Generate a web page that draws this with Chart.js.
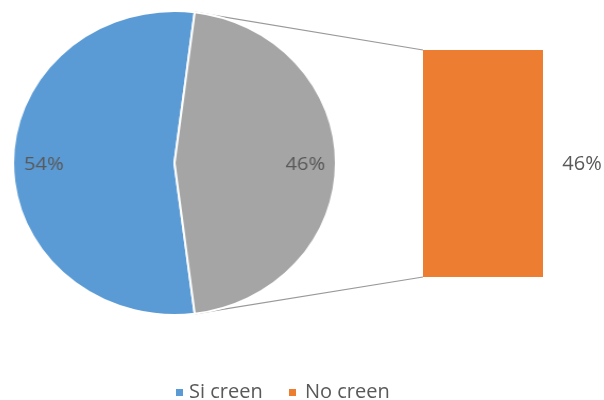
<!DOCTYPE html>
<html>
<head>
<meta charset="utf-8">
<script src="https://cdn.jsdelivr.net/npm/chart.js@4.4.1/dist/chart.umd.min.js"></script>
<style>
    body { margin: 0; background: #fff; }
    #wrap { position: relative; width: 604px; height: 400px; overflow: hidden; }
    #barChart { position: absolute; left: 0; top: 0; z-index: 1; }
    #pieChart { position: absolute; left: 12px; top: 10px; z-index: 2; transform: scaleX(1.062); transform-origin: 0 0; }
    #legend { position: absolute; left: 0; top: 377px; z-index: 3; font: 20px 'Open Sans', sans-serif; color: #595959; white-space: nowrap; }
    .item { position: absolute; top: 0; }
    .box { display: inline-block; width: 7px; height: 7px; margin-right: 6px; vertical-align: 2px; }
</style>
</head>
<body>
<div id="wrap">
    <canvas id="barChart" width="604" height="400"></canvas>
    <canvas id="pieChart" width="306" height="306"></canvas>
    <div id="legend"></div>
</div>
<script>
// data
const categories = ['Si creen', 'No creen'];
const pieLabels = ['Si creen', 'Otro'];
const pieValues = [54, 46];
const barLabels = ['No creen'];
const barValues = [46];

const blue = '#5b9bd5';
const gray = '#a5a5a5';
const orange = '#ed7d31';
const textColor = '#595959';

// pie canvas is stretched a little sideways, like the picture
const pieLeft = 12;
const pieTop = 10;
const pieScale = 1.062;

const total = pieValues.reduce((a, b) => a + b, 0);
// turn the pie so the "other" slice faces the bar
const rotation = 90 - (pieValues[1] / total) * 180 - (pieValues[0] / total) * 360;

const pieLabelPlugin = {
    id: 'pieLabels',
    afterDatasetsDraw(chart) {
        const ctx = chart.ctx;
        const meta = chart.getDatasetMeta(0);
        ctx.save();
        ctx.font = '19px "Open Sans"';
        ctx.fillStyle = textColor;
        ctx.textAlign = 'center';
        ctx.textBaseline = 'middle';
        meta.data.forEach((arc, i) => {
            const p = arc.getProps(['x', 'y', 'startAngle', 'endAngle', 'outerRadius'], true);
            const mid = (p.startAngle + p.endAngle) / 2;
            const r = p.outerRadius * 0.81;
            ctx.fillText(Math.round(pieValues[i] / total * 100) + '%', p.x + r * Math.cos(mid), p.y + r * Math.sin(mid) + 2);
        });
        ctx.restore();
    }
};

let pieChart = new Chart(document.getElementById('pieChart').getContext('2d'), {
    type: 'pie',
    data: {
        labels: pieLabels,
        datasets: [{
            data: pieValues,
            backgroundColor: [blue, gray],
            borderColor: '#ffffff',
            borderWidth: 2,
        }]
    },
    options: {
        responsive: false,
        animation: false,
        devicePixelRatio: 1,
        rotation: rotation,
        layout: { padding: 0 },
        plugins: {
            legend: { display: false },
            tooltip: { enabled: false }
        }
    },
    plugins: [pieLabelPlugin]
});

const barExtrasPlugin = {
    id: 'barExtras',
    afterDatasetsDraw(chart) {
        const ctx = chart.ctx;
        const bar = chart.getDatasetMeta(0).data[0];
        const b = bar.getProps(['x', 'y', 'base', 'width'], true);
        const barLeft = b.x - b.width / 2;
        const barRight = b.x + b.width / 2;

        // connector lines from the grey slice to the bar
        const arc = pieChart.getDatasetMeta(0).data[1];
        const p = arc.getProps(['x', 'y', 'startAngle', 'endAngle', 'outerRadius'], true);
        const edge = (a) => ({
            x: pieLeft + pieScale * (p.x + p.outerRadius * Math.cos(a)),
            y: pieTop + p.y + p.outerRadius * Math.sin(a)
        });
        const top = edge(p.startAngle);
        const bottom = edge(p.endAngle);
        ctx.save();
        ctx.strokeStyle = '#999999';
        ctx.lineWidth = 1.2;
        ctx.beginPath();
        ctx.moveTo(top.x, top.y);
        ctx.lineTo(barLeft, b.y);
        ctx.moveTo(bottom.x, bottom.y);
        ctx.lineTo(barLeft, b.base);
        ctx.stroke();

        // value label beside the bar
        ctx.font = '20px "Open Sans"';
        ctx.fillStyle = textColor;
        ctx.textAlign = 'center';
        ctx.textBaseline = 'middle';
        ctx.fillText(barValues[0] + '%', barRight + 39, (b.y + b.base) / 2 + 1);
        ctx.restore();
    }
};

let barChart = new Chart(document.getElementById('barChart').getContext('2d'), {
    type: 'bar',
    data: {
        labels: barLabels,
        datasets: [{
            data: barValues,
            backgroundColor: orange,
            borderWidth: 0,
            barPercentage: 1,
            categoryPercentage: 1,
        }]
    },
    options: {
        responsive: false,
        animation: false,
        devicePixelRatio: 1,
        layout: { padding: { left: 423, right: 61, top: 50, bottom: 123 } },
        scales: {
            x: { display: false },
            y: { display: false, min: 0, max: barValues[0] }
        },
        plugins: {
            legend: { display: false },
            tooltip: { enabled: false }
        }
    },
    plugins: [barExtrasPlugin]
});

// legend
const legendColors = [blue, orange];
const legendLeft = [176, 289];
const legendGap = [6, 9];
document.getElementById('legend').innerHTML = categories.map((c, i) =>
    `<span class="item" style="left:${legendLeft[i]}px"><span class="box" style="background:${legendColors[i]};margin-right:${legendGap[i]}px"></span>${c}</span>`
).join('');
</script>
</body>
</html>
